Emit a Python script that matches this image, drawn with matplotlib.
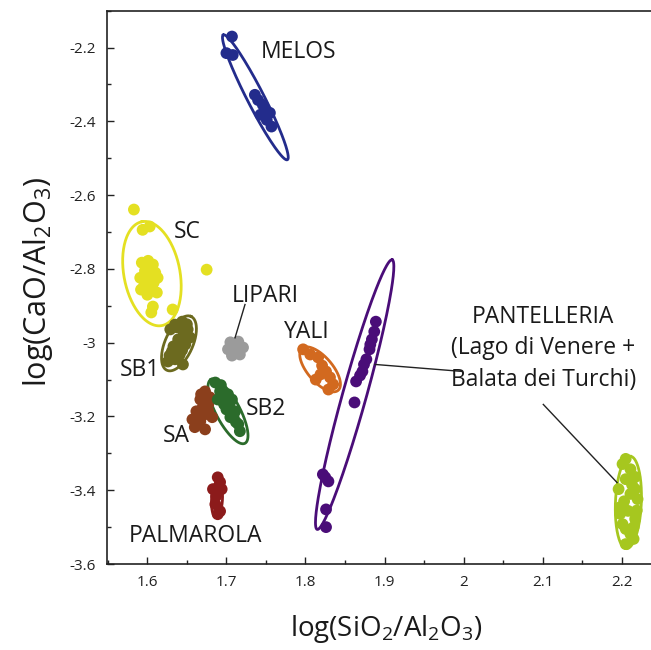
import numpy as np
import matplotlib
matplotlib.use('Agg')
import matplotlib.pyplot as plt
from matplotlib.ticker import MultipleLocator, FuncFormatter

plt.rcParams['font.family'] = ['Open Sans', 'DejaVu Sans']
plt.rcParams['mathtext.fontset'] = 'custom'
plt.rcParams['mathtext.rm'] = 'Open Sans'
plt.rcParams['mathtext.it'] = 'Open Sans:italic'
plt.rcParams['axes.unicode_minus'] = False

# sample points, log(SiO2/Al2O3) vs log(CaO/Al2O3)
melos_x = [1.707, 1.700, 1.708, 1.736, 1.740, 1.749, 1.755, 1.751, 1.757, 1.743, 1.746]
melos_y = [-2.170, -2.215, -2.220, -2.328, -2.342, -2.369, -2.377, -2.396, -2.414, -2.382, -2.355]

sc_x = [1.583, 1.594, 1.603, 1.593, 1.601, 1.607, 1.597, 1.610, 1.591, 1.603, 1.613,
        1.596, 1.606, 1.600, 1.612, 1.592, 1.608, 1.675, 1.607, 1.605, 1.632]
sc_y = [-2.639, -2.694, -2.685, -2.783, -2.778, -2.788, -2.805, -2.810, -2.824, -2.829, -2.824,
        -2.845, -2.851, -2.870, -2.864, -2.856, -2.837, -2.802, -2.902, -2.918, -2.910]

sb1_x = [1.629, 1.635, 1.644, 1.651, 1.639, 1.648, 1.631, 1.635, 1.626, 1.641, 1.654, 1.645,
         1.637, 1.646, 1.633, 1.644, 1.628, 1.650]
sb1_y = [-2.964, -2.951, -2.943, -2.964, -2.991, -3.005, -3.024, -3.045, -3.051, -3.032, -2.986, -3.059,
         -2.958, -2.975, -3.010, -3.020, -3.035, -2.950]

lipari_x = [1.705, 1.715, 1.721, 1.717, 1.707, 1.702, 1.711, 1.712, 1.714, 1.708]
lipari_y = [-2.999, -2.997, -3.013, -3.032, -3.035, -3.018, -3.016, -3.005, -3.026, -3.025]

sa_x = [1.673, 1.667, 1.677, 1.662, 1.673, 1.667, 1.660, 1.673, 1.682, 1.657, 1.679,
        1.668, 1.677, 1.663, 1.670]
sa_y = [-3.132, -3.154, -3.167, -3.186, -3.194, -3.213, -3.229, -3.235, -3.202, -3.208, -3.148,
        -3.140, -3.185, -3.220, -3.175]

sb2_x = [1.686, 1.692, 1.702, 1.697, 1.707, 1.711, 1.705, 1.715, 1.700, 1.689, 1.717,
         1.693, 1.704, 1.709, 1.712, 1.697]
sb2_y = [-3.108, -3.132, -3.140, -3.167, -3.154, -3.186, -3.202, -3.221, -3.181, -3.154, -3.240,
         -3.115, -3.165, -3.200, -3.215, -3.140]

palmarola_x = [1.689, 1.692, 1.683, 1.694, 1.687, 1.686, 1.692, 1.689]
palmarola_y = [-3.365, -3.378, -3.397, -3.397, -3.416, -3.438, -3.457, -3.465]

yali_x = [1.797, 1.806, 1.816, 1.821, 1.826, 1.831, 1.835, 1.829, 1.813, 1.819]
yali_y = [-3.018, -3.032, -3.040, -3.062, -3.078, -3.094, -3.113, -3.127, -3.100, -3.086]

lago_x = [1.889, 1.884, 1.881, 1.877, 1.872, 1.864, 1.862, 1.822, 1.829, 1.826, 1.826,
          1.887, 1.882, 1.874, 1.869, 1.825]
lago_y = [-2.943, -2.991, -3.018, -3.045, -3.078, -3.105, -3.162, -3.357, -3.376, -3.452, -3.500,
          -2.970, -3.005, -3.059, -3.089, -3.365]

balata_x = [2.201, 2.211, 2.205, 2.217, 2.196, 2.211, 2.220, 2.198, 2.208, 2.217, 2.201,
            2.211, 2.205, 2.215, 2.198, 2.217, 2.205, 2.213, 2.203, 2.219, 2.205, 2.215]
balata_y = [-3.329, -3.343, -3.370, -3.364, -3.397, -3.410, -3.424, -3.446, -3.456, -3.478, -3.492,
            -3.519, -3.546, -3.532, -3.464, -3.397, -3.315, -3.385, -3.430, -3.455, -3.505, -3.500]

groups = ['MELOS', 'SC', 'SB1', 'LIPARI', 'SA', 'SB2', 'PALMAROLA', 'YALI', 'LAGO', 'BALATA']
xs = [melos_x, sc_x, sb1_x, lipari_x, sa_x, sb2_x, palmarola_x, yali_x, lago_x, balata_x]
ys = [melos_y, sc_y, sb1_y, lipari_y, sa_y, sb2_y, palmarola_y, yali_y, lago_y, balata_y]
colors = ['#232c8c', '#e4e022', '#6c6a1f', '#9b9b9b', '#8b3f1c', '#2b6b2b',
          '#8c1b1b', '#d2691f', '#4a0d78', '#a6c71f']

# ellipses: centre, end of the long axis, short/long ratio
ell_group = ['MELOS', 'SC', 'SB1', 'SB2', 'PALMAROLA', 'YALI', 'LAGO', 'BALATA']
ell_cx = [1.7366, 1.6058, 1.6400, 1.7020, 1.6881, 1.8185, 1.8622, 2.2084]
ell_cy = [-2.3348, -2.8128, -3.0018, -3.1861, -3.4249, -3.0723, -3.1407, -3.4332]
ell_tx = [1.6961, 1.5932, 1.6552, 1.6805, 1.6894, 1.7957, 1.9096, 2.2109]
ell_ty = [-2.1656, -2.6720, -2.9288, -3.0995, -3.3757, -3.0154, -2.7752, -3.3080]
ell_ratio = [0.12, 0.53, 0.47, 0.33, 0.3, 0.45, 0.085, 0.28]

fig = plt.figure(figsize=(6.51, 6.5), dpi=100)
ax = fig.add_axes([0.1644, 0.1323, 0.8356, 0.8512])
ax.set_xlim(1.549, 2.237)
ax.set_ylim(-3.6, -2.1)


def ellipse_outline(cx, cy, tx, ty, ratio, n=200):
    c = ax.transData.transform((cx, cy))
    t = ax.transData.transform((tx, ty))
    u = t - c
    v = np.array([-u[1], u[0]]) * ratio
    th = np.linspace(0, 2 * np.pi, n)
    pts = c + np.outer(np.cos(th), u) + np.outer(np.sin(th), v)
    return ax.transData.inverted().transform(pts)


for g, x, y, col in zip(groups, xs, ys, colors):
    ax.scatter(x, y, s=72, color=col, edgecolors='none', zorder=3)

for i, g in enumerate(ell_group):
    pts = ellipse_outline(ell_cx[i], ell_cy[i], ell_tx[i], ell_ty[i], ell_ratio[i])
    ax.plot(pts[:, 0], pts[:, 1], color=colors[groups.index(g)], lw=2.0, zorder=2)

# labels
lab = dict(fontsize=16.5, color='#1a1a1a', zorder=5)
ax.text(1.7440, -2.2113, 'MELOS', ha='left', va='center', **lab)
ax.text(1.6340, -2.6993, 'SC', ha='left', va='center', **lab)
ax.text(1.7495, -2.8723, 'LIPARI', ha='center', va='center', **lab)
ax.text(1.8014, -2.9722, 'YALI', ha='center', va='center', **lab)
ax.text(1.5906, -3.0737, 'SB1', ha='center', va='center', **lab)
ax.text(1.7501, -3.1808, 'SB2', ha='center', va='center', **lab)
ax.text(1.6368, -3.2530, 'SA', ha='center', va='center', **lab)
ax.text(1.6603, -3.5238, 'PALMAROLA', ha='center', va='center', **lab)
ax.text(2.1008, -3.0157, 'PANTELLERIA\n(Lago di Venere +\nBalata dei Turchi)',
        ha='center', va='center', linespacing=1.43, **lab)

# leader lines
ax.plot([1.7235, 1.7109], [-2.8965, -2.9867], color='#222222', lw=1.0, zorder=4)
ax.plot([1.8881, 1.9982], [-3.0590, -3.0779], color='#222222', lw=1.0, zorder=4)
ax.plot([2.1008, 2.1941], [-3.1674, -3.3792], color='#222222', lw=1.0, zorder=4)

ax.xaxis.set_major_locator(MultipleLocator(0.1))
ax.xaxis.set_minor_locator(MultipleLocator(0.05))
ax.yaxis.set_major_locator(MultipleLocator(0.2))
ax.yaxis.set_minor_locator(MultipleLocator(0.1))
fmt = FuncFormatter(lambda v, p: '%g' % round(v, 2))
ax.xaxis.set_major_formatter(fmt)
ax.yaxis.set_major_formatter(fmt)
ax.tick_params(which='both', direction='in', labelsize=11, colors='#222222', width=1.0)
ax.tick_params(which='major', length=5, pad=8)
ax.tick_params(which='minor', length=3)
ax.spines['right'].set_visible(False)
for s in ['left', 'bottom', 'top']:
    ax.spines[s].set_linewidth(1.2)
    ax.spines[s].set_color('#222222')

ax.set_xlabel(r'log(SiO$_2$/Al$_2$O$_3$)', fontsize=20, color='#1a1a1a')
ax.set_ylabel(r'log(CaO/Al$_2$O$_3$)', fontsize=22, color='#1a1a1a')
ax.xaxis.set_label_coords(0.513, -0.088)
ax.yaxis.set_label_coords(-0.095, 0.51)

fig.savefig('out.png', dpi=100)
